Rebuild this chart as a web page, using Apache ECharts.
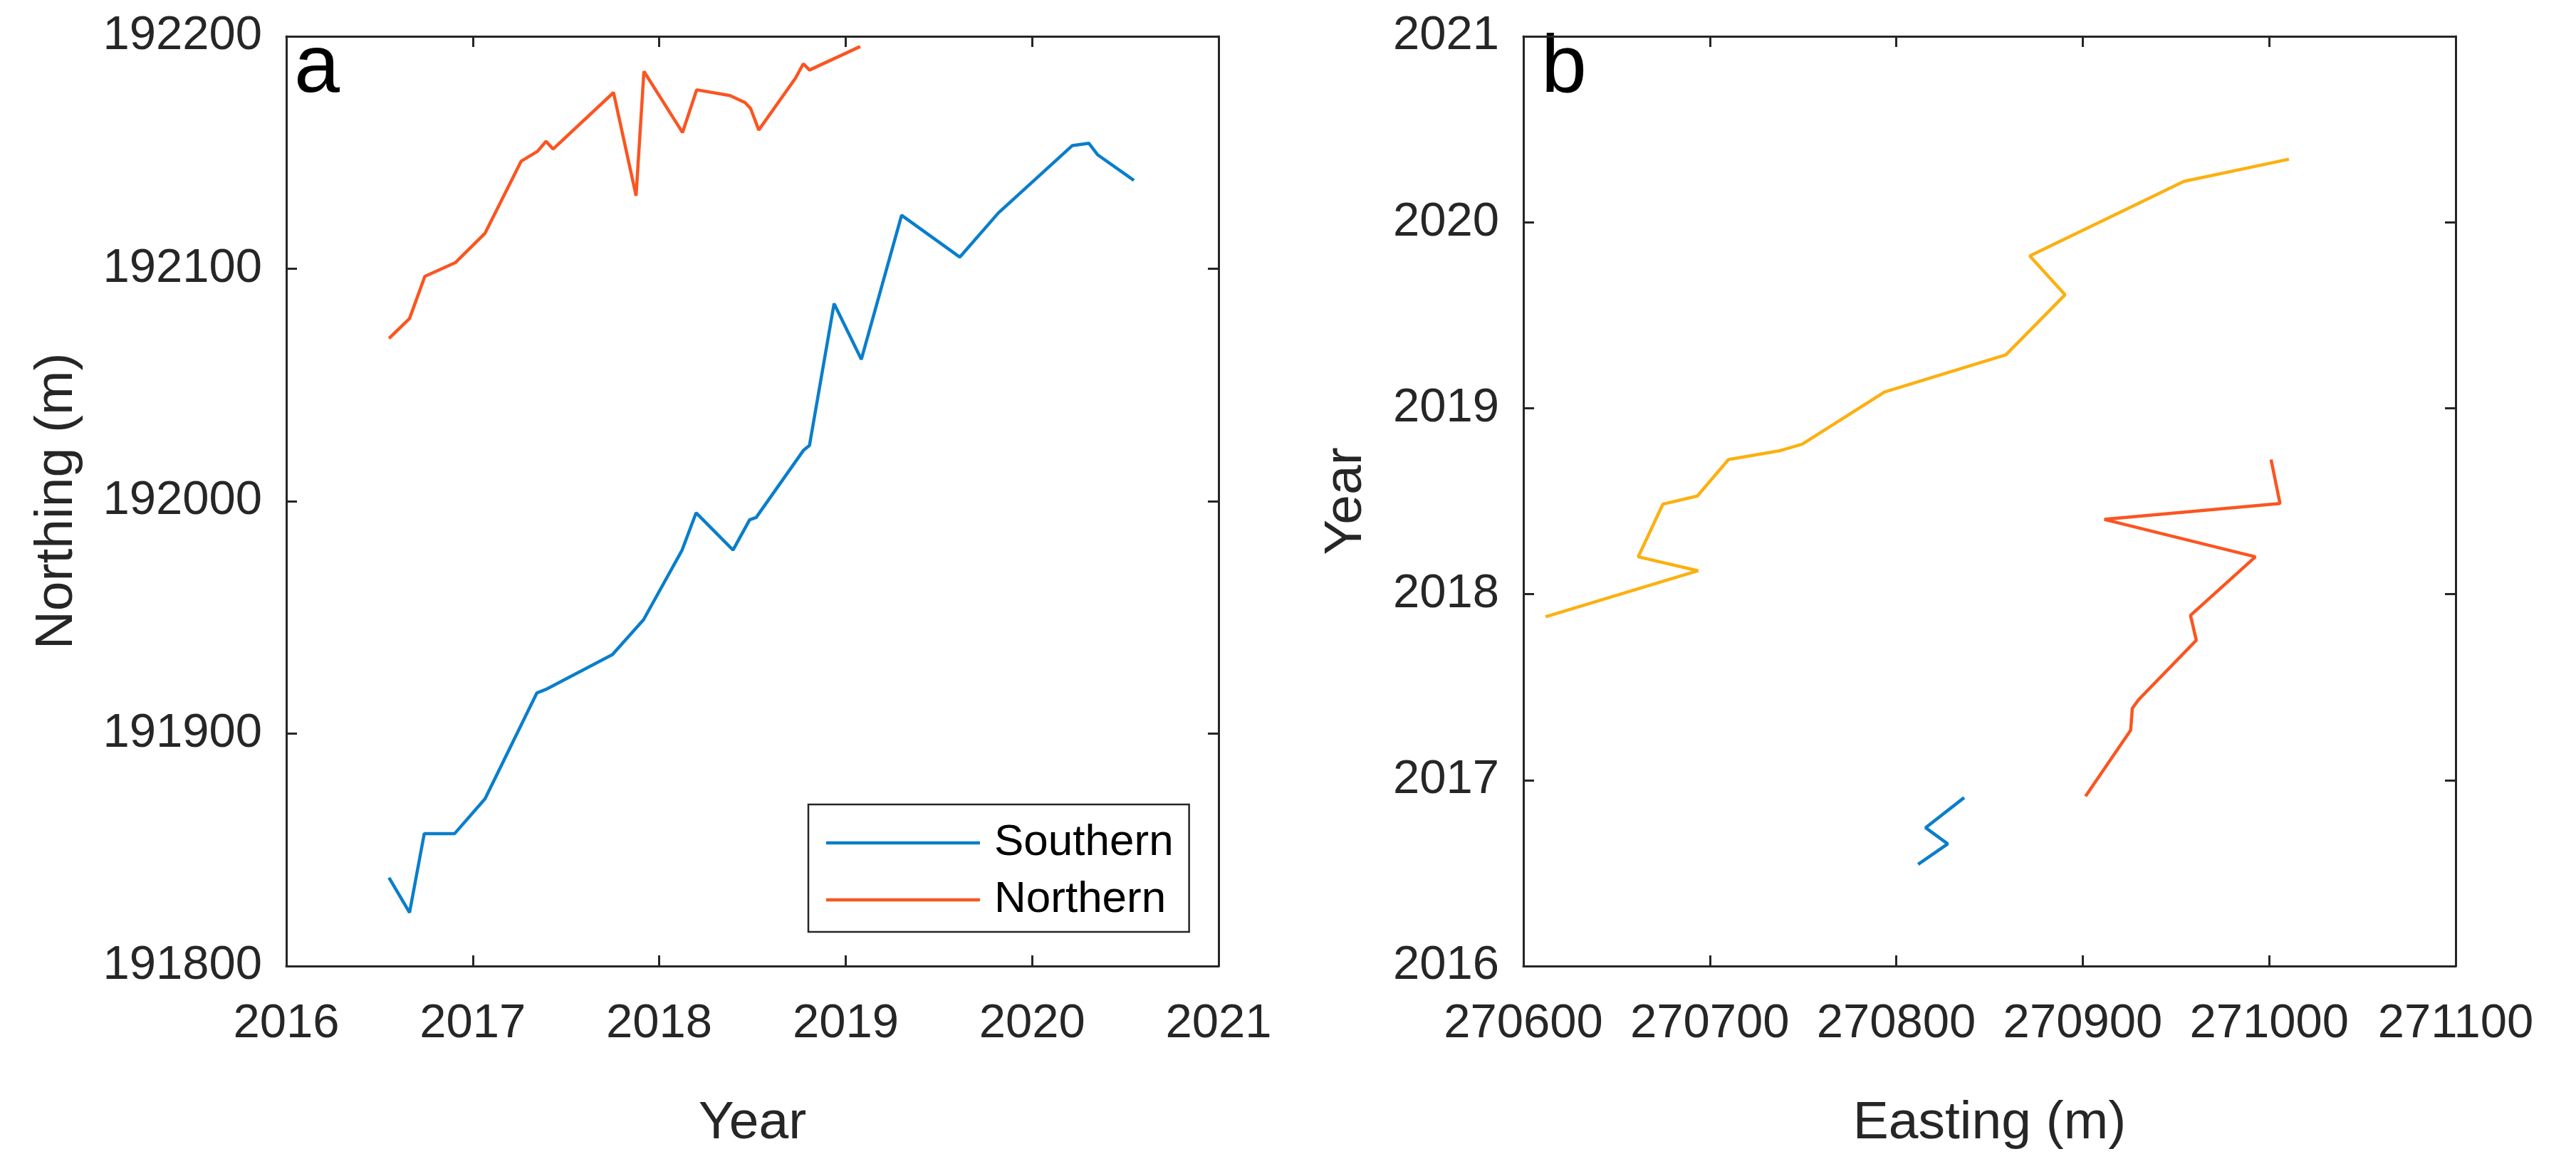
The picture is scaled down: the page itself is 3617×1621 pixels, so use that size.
<!DOCTYPE html>
<html>
<head>
<meta charset="utf-8">
<script src="https://cdn.jsdelivr.net/npm/echarts@6/dist/echarts.min.js"></script>
<style>
html,body{margin:0;padding:0;background:#fff;}
#chart{width:3617px;height:1621px;}
</style>
</head>
<body>
<div id="chart"></div>
<script>
// ---- Panel a: Northing vs Year ----
const aSouthYear = [2016.551, 2016.661, 2016.740, 2016.903, 2017.066, 2017.344, 2017.392, 2017.749, 2017.916, 2018.123, 2018.198, 2018.396, 2018.485, 2018.520, 2018.775, 2018.806, 2018.938, 2019.084, 2019.300, 2019.612, 2019.819, 2020.216, 2020.304, 2020.352, 2020.546];
const aSouthNorthing = [191838, 191823, 191857, 191857, 191872, 191917.5, 191919, 191934, 191949, 191979, 191995, 191979, 191992, 191993, 192022, 192024, 192085, 192061, 192123, 192105, 192124, 192153, 192154, 192149, 192138];
const aNorthYear = [2016.551, 2016.661, 2016.743, 2016.908, 2017.066, 2017.260, 2017.347, 2017.393, 2017.431, 2017.755, 2017.876, 2017.918, 2018.125, 2018.201, 2018.380, 2018.460, 2018.490, 2018.534, 2018.731, 2018.773, 2018.806, 2019.078];
const aNorthNorthing = [192070, 192078.6, 192096.7, 192102.7, 192115.3, 192146.3, 192150.5, 192154.8, 192151.5, 192175.8, 192131.4, 192184.9, 192158.6, 192177, 192174.5, 192171.5, 192169, 192159.7, 192182, 192188.2, 192185.5, 192195.6];

// ---- Panel b: Year vs Easting ----
const bBlueEast = [270811.7, 270827.6, 270815.7, 270836.4];
const bBlueYear = [2016.547, 2016.657, 2016.744, 2016.906];
const bOrangeEast = [270901.5, 270925.7, 270926.6, 270930.0, 270960.9, 270957.8, 270992.6, 270911.6, 271005.8, 271001.0];
const bOrangeYear = [2016.913, 2017.268, 2017.386, 2017.433, 2017.752, 2017.886, 2018.201, 2018.402, 2018.488, 2018.724];
const bYellowEast = [270611.9, 270693.7, 270661.6, 270674.8, 270693.3, 270710.0, 270737.8, 270749.6, 270793.7, 270858.8, 270890.5, 270871.6, 270954.3, 271010.6];
const bYellowYear = [2017.878, 2018.126, 2018.201, 2018.484, 2018.528, 2018.724, 2018.772, 2018.807, 2019.087, 2019.287, 2019.610, 2019.819, 2020.220, 2020.339];

// ---- Axis ticks ----
const aXTicks = {min: 2016, max: 2021, interval: 1};
const aYTicks = {min: 191800, max: 192200, interval: 100};
const bXTicks = {min: 270600, max: 271100, interval: 100};
const bYTicks = {min: 2016, max: 2021, interval: 1};

const legendNames = ['Southern', 'Northern'];

const BLUE = '#0a7ecb', ORANGE = '#fb5521', YELLOW = '#fcb010';
const AX = '#262626';
const FONT = "'Liberation Sans', Arial, Helvetica, sans-serif";
const TICK_FS = 67, NAME_FS = 75;

function zip(xs, ys){ return xs.map((x,i)=>[x, ys[i]]); }

function axisBase(t, pos, gridIndex, showLabel, extra){
  return Object.assign({
    type: 'value', gridIndex: gridIndex, position: pos,
    min: t.min, max: t.max, interval: t.interval,
    axisLine: {show: true, onZero: false, lineStyle: {color: AX, width: 3}},
    axisTick: {show: true, inside: true, length: 15, lineStyle: {color: AX, width: 3}},
    splitLine: {show: false},
    axisLabel: {show: showLabel, color: AX, fontSize: TICK_FS, fontFamily: FONT,
      formatter: v => String(v), showMinLabel: true, showMaxLabel: true},
  }, extra || {});
}
function lbl(margin){
  return {show: true, color: AX, fontSize: TICK_FS, fontFamily: FONT, margin: margin,
    formatter: v => String(v), showMinLabel: true, showMaxLabel: true};
}
const nameStyle = {color: AX, fontSize: NAME_FS, fontFamily: FONT};

const chart = echarts.init(document.getElementById('chart'), null, {renderer: 'canvas'});
const lineW = 4.5;
const option = {
  animation: false,
  backgroundColor: '#ffffff',
  grid: [
    {left: 402, top: 51, width: 1309, height: 1311},
    {left: 2139, top: 51, width: 1309, height: 1311}
  ],
  xAxis: [
    axisBase(aXTicks, 'bottom', 0, true, {name: 'Year', nameLocation: 'middle', nameGap: 184,
      nameTextStyle: nameStyle, axisLabel: lbl(48)}),
    axisBase(aXTicks, 'top', 0, false),
    axisBase(bXTicks, 'bottom', 1, true, {name: 'Easting (m)', nameLocation: 'middle', nameGap: 184,
      nameTextStyle: nameStyle, axisLabel: lbl(48)}),
    axisBase(bXTicks, 'top', 1, false)
  ],
  yAxis: [
    axisBase(aYTicks, 'left', 0, true, {name: 'Northing (m)', nameLocation: 'middle', nameGap: 284,
      nameTextStyle: nameStyle, axisLabel: lbl(34)}),
    axisBase(aYTicks, 'right', 0, false),
    axisBase(bYTicks, 'left', 1, true, {name: 'Year', nameLocation: 'middle', nameGap: 211,
      nameTextStyle: nameStyle, axisLabel: lbl(34)}),
    axisBase(bYTicks, 'right', 1, false)
  ],
  legend: {
    data: legendNames.map(n => ({name: n, icon: 'rect'})),
    orient: 'vertical',
    left: 1135, top: 1130,
    padding: [23, 22, 14, 25],
    itemGap: 18,
    itemWidth: 216, itemHeight: 4.5,
    backgroundColor: '#ffffff',
    borderColor: AX, borderWidth: 2.5, borderRadius: 0,
    textStyle: {color: '#000', fontSize: 62, fontFamily: FONT, padding: [0, 0, 0, 15]},
    selectedMode: false
  },
  graphic: [
    {type: 'text', left: 413, top: 40, style: {text: 'a', fill: '#000', font: "115px 'Liberation Sans', Arial, sans-serif"}},
    {type: 'text', left: 2164, top: 40, style: {text: 'b', fill: '#000', font: "115px 'Liberation Sans', Arial, sans-serif"}}
  ],
  series: [
    {name: 'Southern', type: 'line', xAxisIndex: 0, yAxisIndex: 0, data: zip(aSouthYear, aSouthNorthing),
      showSymbol: false, symbol: 'none', lineStyle: {color: BLUE, width: lineW}, itemStyle: {color: BLUE}},
    {name: 'Northern', type: 'line', xAxisIndex: 0, yAxisIndex: 0, data: zip(aNorthYear, aNorthNorthing),
      showSymbol: false, symbol: 'none', lineStyle: {color: ORANGE, width: lineW}, itemStyle: {color: ORANGE}},
    {name: 'b-blue', type: 'line', xAxisIndex: 2, yAxisIndex: 2, data: zip(bBlueEast, bBlueYear),
      showSymbol: false, symbol: 'none', lineStyle: {color: BLUE, width: lineW}, itemStyle: {color: BLUE}},
    {name: 'b-orange', type: 'line', xAxisIndex: 2, yAxisIndex: 2, data: zip(bOrangeEast, bOrangeYear),
      showSymbol: false, symbol: 'none', lineStyle: {color: ORANGE, width: lineW}, itemStyle: {color: ORANGE}},
    {name: 'b-yellow', type: 'line', xAxisIndex: 2, yAxisIndex: 2, data: zip(bYellowEast, bYellowYear),
      showSymbol: false, symbol: 'none', lineStyle: {color: YELLOW, width: lineW}, itemStyle: {color: YELLOW}}
  ]
};
chart.setOption(option);
</script>
</body>
</html>
